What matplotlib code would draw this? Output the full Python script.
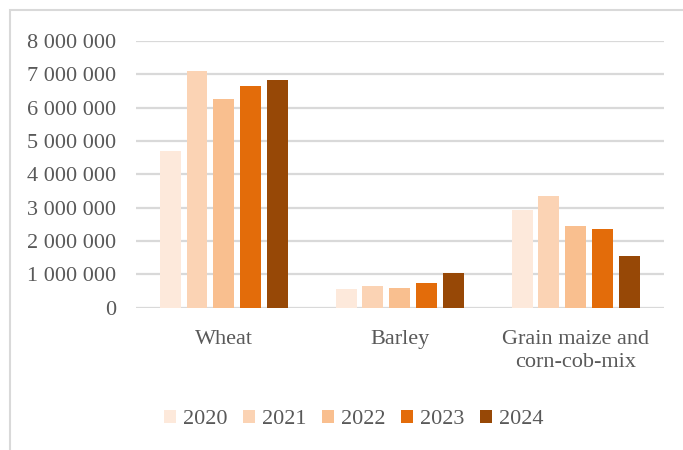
import matplotlib
matplotlib.use('Agg')
import matplotlib.pyplot as plt
import matplotlib.patches as patches
import matplotlib.ticker as mticker
import numpy as np

# data
crops = ['Wheat', 'Barley', 'Grain maize and\ncorn-cob-mix']
years = ['2020', '2021', '2022', '2023', '2024']
y2020 = [4700000, 550000, 2920000]
y2021 = [7100000, 650000, 3360000]
y2022 = [6250000, 580000, 2450000]
y2023 = [6640000, 730000, 2370000]
y2024 = [6830000, 1050000, 1550000]
series = [y2020, y2021, y2022, y2023, y2024]

COLORS = ['#FDE9DB', '#FBD3B4', '#F9BF8F', '#E36C0A', '#974806']
TEXT = '#595959'
GRID = '#D9D9D9'

plt.rcParams['font.family'] = ['Liberation Serif', 'DejaVu Serif']

fig = plt.figure(figsize=(6.83, 4.5), dpi=100)
ax = fig.add_axes([0.199, 0.316, 0.773, 0.593])

# outer chart frame (only top and left edges are inside the image)
frame = patches.Rectangle((10 / 683, -0.1), 1.2, 1 - 10 / 450 + 0.1,
                          transform=fig.transFigure, fill=False,
                          edgecolor=GRID, linewidth=1.5)
fig.patches.append(frame)

x = np.arange(len(crops))
step = 0.153
width = 0.119
for i, (vals, yr) in enumerate(zip(series, years)):
    ax.bar(x + (i - 2) * step, vals, width, color=COLORS[i], label=yr, zorder=3)

ax.set_xlim(-0.5, 2.5)
ax.set_ylim(0, 8000000)
ax.yaxis.set_major_locator(mticker.MultipleLocator(1000000))
ax.yaxis.set_major_formatter(
    mticker.FuncFormatter(lambda v, p: f'{int(v):,}'.replace(',', ' ')))
ax.grid(True, axis='y', color=GRID, linewidth=1.6, zorder=0)
ax.set_axisbelow(True)
for s in ax.spines.values():
    s.set_visible(False)
ax.tick_params(axis='both', length=0, labelsize=16, colors=TEXT)
ax.tick_params(axis='y', pad=14)
ax.tick_params(axis='x', pad=16)
ax.set_xticks(x)
ax.set_xticklabels(crops, linespacing=1.25)

fig.legend(loc='center', bbox_to_anchor=(0.518, 0.068), ncol=5, frameon=False,
           fontsize=16, labelcolor=TEXT, handlelength=0.55, handleheight=0.55,
           handletextpad=0.3, columnspacing=0.7)

plt.savefig('out.png', dpi=100)
plt.close()
